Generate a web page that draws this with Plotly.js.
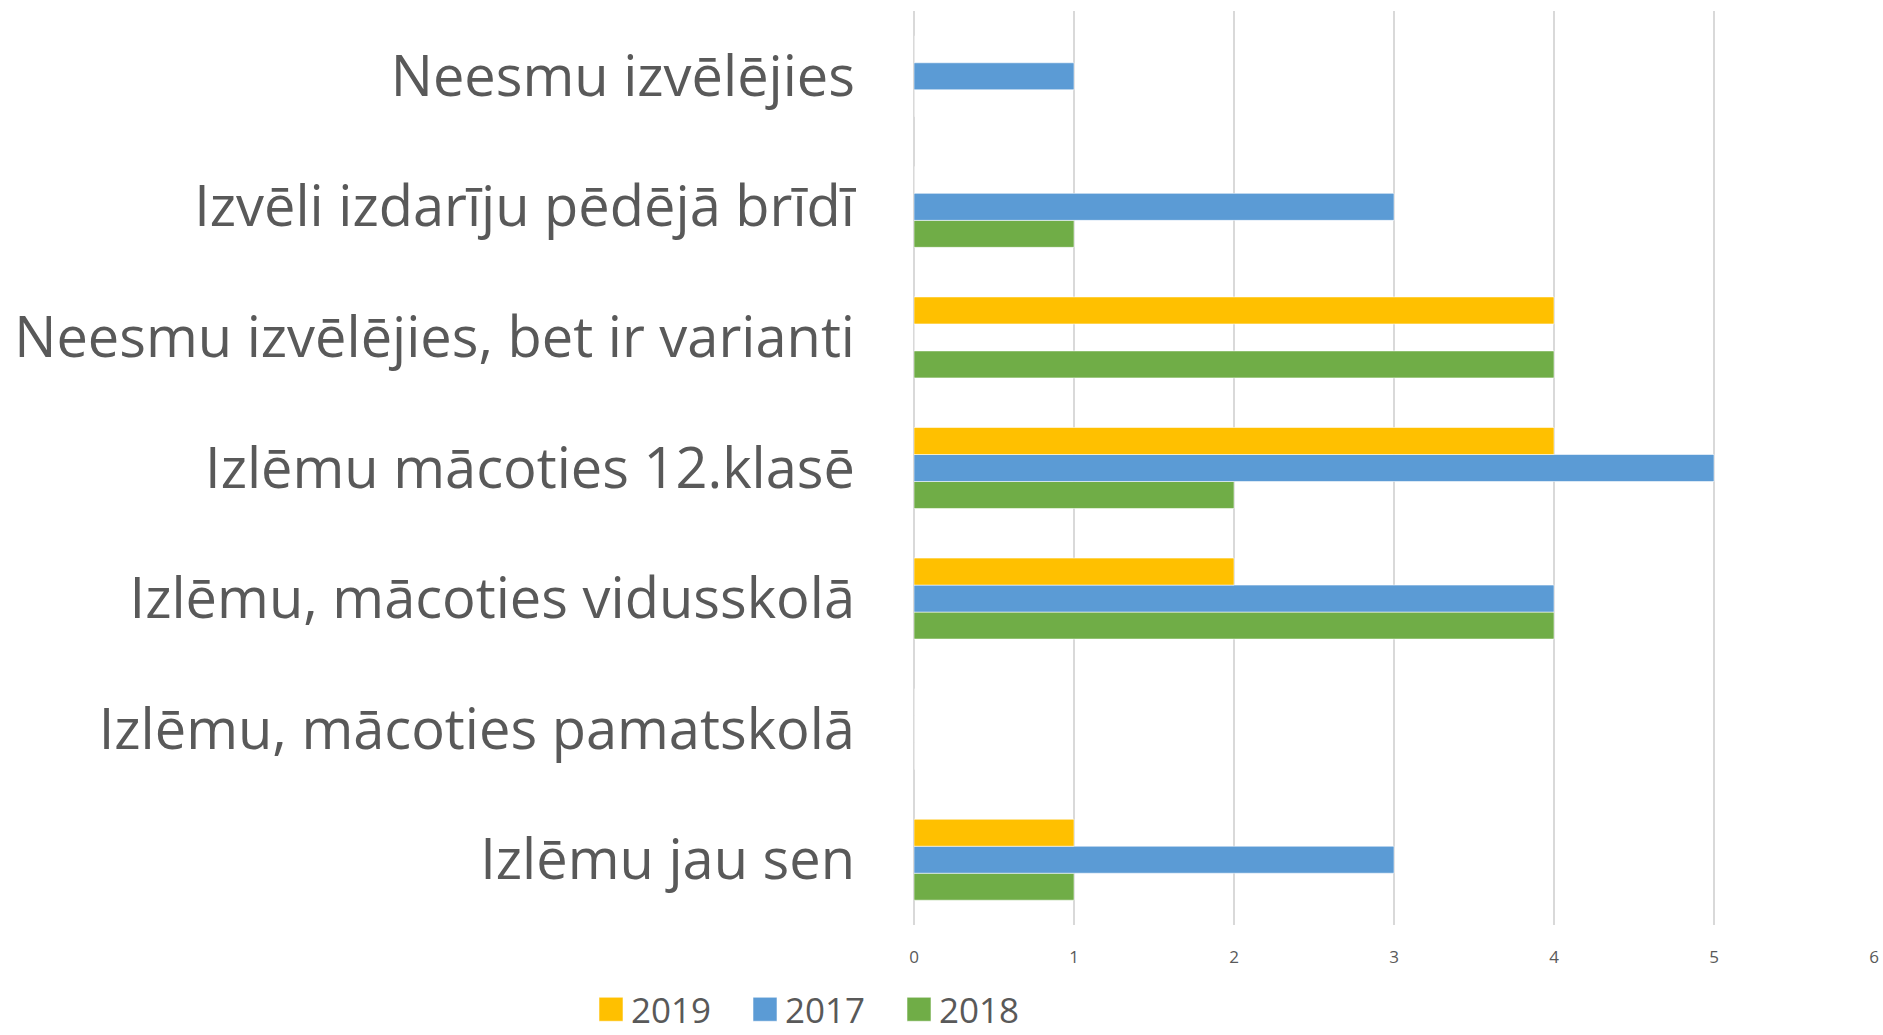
<!DOCTYPE html>
<html>
<head>
<meta charset="utf-8">
<script src="https://cdn.plot.ly/plotly-3.0.1.min.js"></script>
<style>
html,body{margin:0;padding:0;background:#fff;}
#chart{width:1883px;height:1035px;}
</style>
</head>
<body>
<div id="chart"></div>
<script>
// Categories, listed bottom to top as drawn
const categories = [
  "Izlēmu jau sen",
  "Izlēmu, mācoties pamatskolā",
  "Izlēmu, mācoties vidusskolā",
  "Izlēmu mācoties 12.klasē",
  "Neesmu izvēlējies, bet ir varianti",
  "Izvēli izdarīju pēdējā brīdī",
  "Neesmu izvēlējies"
];
const values2019 = [1, 0, 2, 4, 4, 0, 0];
const values2017 = [3, 0, 4, 5, 0, 3, 1];
const values2018 = [1, 0, 4, 2, 4, 1, 0];
const xTicks = [0, 1, 2, 3, 4, 5, 6];

const colors = {"2019": "#FFC000", "2017": "#5B9BD5", "2018": "#70AD47"};
const edge = {color: "rgba(255,255,255,0.55)", width: 1};

function barTrace(name, vals) {
  return {
    type: "bar",
    orientation: "h",
    name: name,
    y: categories,
    x: vals,
    marker: {color: colors[name], line: edge},
    hoverinfo: "x+y+name"
  };
}

// trace order: first trace sits lowest within each group
const data = [
  barTrace("2018", values2018),
  barTrace("2017", values2017),
  barTrace("2019", values2019)
];

const layout = {
  width: 1883,
  height: 1035,
  paper_bgcolor: "#ffffff",
  plot_bgcolor: "#ffffff",
  margin: {l: 914, r: 9, t: 11, b: 110, pad: 0},
  barmode: "group",
  bargap: 0.38,
  bargroupgap: 0,
  font: {family: "Open Sans, sans-serif", color: "#595959"},
  xaxis: {
    range: [0, 6],
    tickvals: xTicks,
    ticktext: xTicks.map(String),
    showgrid: true,
    gridcolor: "#D9D9D9",
    gridwidth: 1.3,
    zeroline: true,
    zerolinecolor: "#D9D9D9",
    zerolinewidth: 1.3,
    showline: false,
    ticks: "outside",
    ticklen: 17,
    tickcolor: "rgba(0,0,0,0)",
    tickfont: {family: "Open Sans, sans-serif", size: 17, color: "#595959"},
    fixedrange: true
  },
  yaxis: {
    type: "category",
    categoryorder: "array",
    categoryarray: categories,
    showgrid: false,
    zeroline: false,
    showline: false,
    ticks: "",
    ticklabelstandoff: 58,
    tickfont: {family: "Open Sans, sans-serif", size: 56, color: "#595959"},
    fixedrange: true
  },
  showlegend: true,
  legend: {
    orientation: "h",
    traceorder: "reversed",
    entrywidth: 109,
    entrywidthmode: "pixels",
    xref: "container",
    yref: "container",
    x: 591 / 1883,
    xanchor: "left",
    y: 0,
    yanchor: "bottom",
    font: {family: "Open Sans, sans-serif", size: 35, color: "#595959"},
    bgcolor: "rgba(0,0,0,0)",
    itemclick: false,
    itemdoubleclick: false
  }
};

Plotly.newPlot("chart", data, layout, {displayModeBar: false, staticPlot: true}).then(function () {
  // enlarge legend swatches to match the reference's square size
  document.querySelectorAll("#chart .legendpoints path").forEach(function (p) {
    p.setAttribute("d", "M12,12H-12V-12H12Z");
  });
  // nudge the legend slightly lower, keeping its text inside the page
  const lg = document.querySelector("#chart .legend");
  if (lg) {
    const t = lg.getAttribute("transform") || "";
    const m = t.match(/translate\(\s*([-\d.]+)[ ,]+([-\d.]+)\s*\)/);
    if (m) {
      lg.setAttribute("transform", "translate(" + m[1] + "," + (parseFloat(m[2]) + 4) + ")");
    }
  }
});
</script>
</body>
</html>
